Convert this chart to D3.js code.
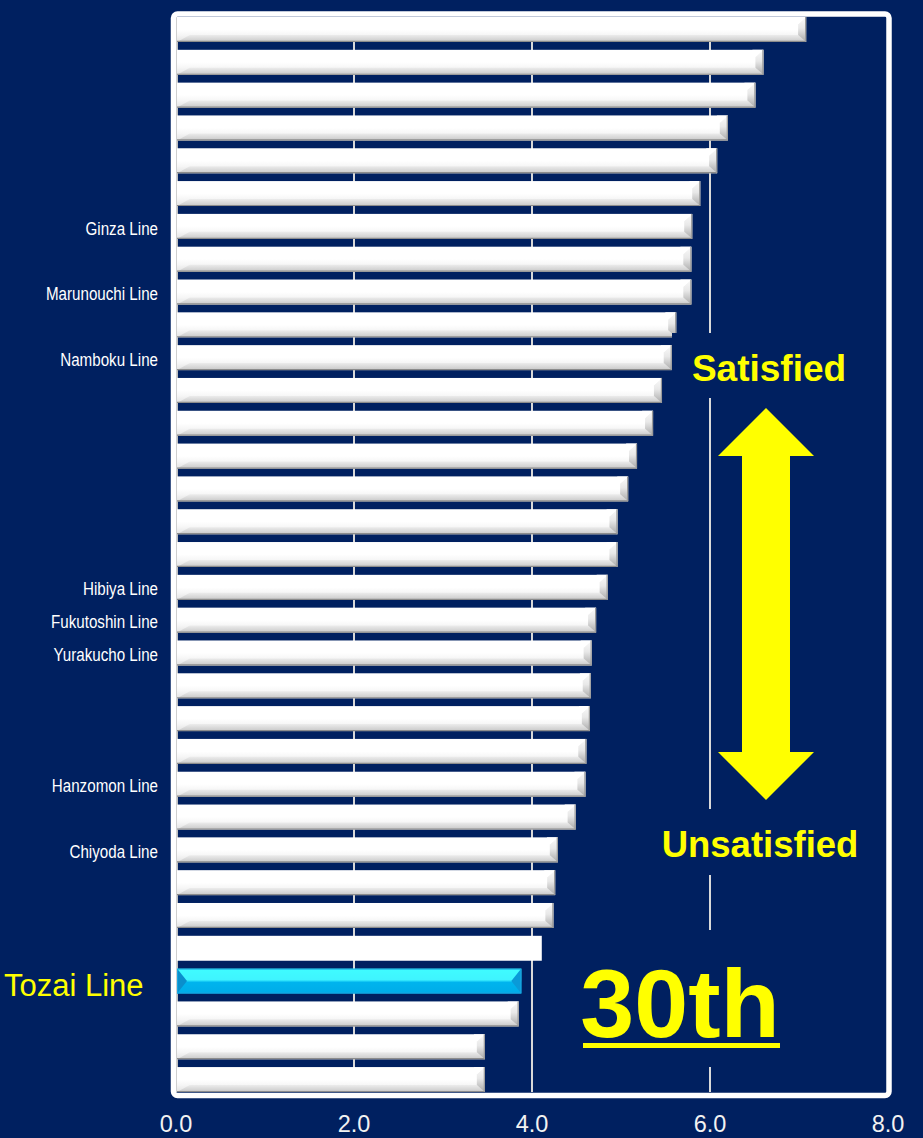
<!DOCTYPE html>
<html>
<head>
<meta charset="utf-8">
<script src="https://cdn.jsdelivr.net/npm/d3@7"></script>
<style>
html,body{margin:0;padding:0;background:#002060;}
svg{display:block;}
</style>
</head>
<body>
<svg id="chart" width="923" height="1138"></svg>
<script>
// ---- data ----
const categories = ["", "", "", "", "", "", "Ginza Line", "", "Marunouchi Line", "", "Namboku Line", "", "", "", "", "", "",
  "Hibiya Line", "Fukutoshin Line", "Yurakucho Line", "", "", "", "Hanzomon Line", "", "Chiyoda Line", "", "", "", "Tozai Line", "", "", ""];
const values = [7.08, 6.60, 6.51, 6.20, 6.08, 5.89, 5.80, 5.79, 5.79, 5.62, 5.57, 5.46, 5.36, 5.18, 5.08, 4.96, 4.96,
  4.85, 4.72, 4.67, 4.66, 4.65, 4.61, 4.60, 4.49, 4.29, 4.26, 4.24, 4.11, 3.88, 3.85, 3.47, 3.47];
const barTypes = values.map((v, i) => i === 29 ? "highlight" : (i === 28 ? "flat" : "bevel"));
const xTicks = [0, 2, 4, 6, 8];
const gridTicks = [2, 4, 6];
const annotations = { top: "Satisfied", bottom: "Unsatisfied", rank: "30th" };

// ---- layout ----
const svg = d3.select("#chart");
const plot = { left: 176, right: 888, top: 17, bottom: 1092 };
const x = d3.scaleLinear().domain([0, 8]).range([plot.left, plot.right]);
const y = d3.scaleBand().domain(d3.range(values.length)).range([plot.top, plot.bottom]).paddingInner(0.24).paddingOuter(0);
const bg = "#002060";

const defs = svg.append("defs");
function vgrad(id, stops) {
  const g = defs.append("linearGradient").attr("id", id).attr("x1", 0).attr("y1", 0).attr("x2", 0).attr("y2", 1);
  stops.forEach(s => g.append("stop").attr("offset", s[0]).attr("stop-color", s[1]));
}
vgrad("faceW", [[0, "#ffffff"], [0.5, "#ffffff"], [0.72, "#f6f6f6"], [1, "#e2e2e2"]]);
vgrad("rightW", [[0, "#fafafa"], [0.45, "#e8e8e8"], [1, "#a9a9a9"]]);
vgrad("bottomW", [[0, "#ececec"], [1, "#c8c8c8"]]);
vgrad("faceC", [[0, "#3ffcff"], [0.45, "#3ff4ff"], [0.55, "#00b4ee"], [1, "#00ace8"]]);

svg.append("rect").attr("width", 923).attr("height", 1138).attr("fill", bg);

// gridlines
svg.append("g").selectAll("line").data(gridTicks).join("line")
  .attr("x1", d => x(d)).attr("x2", d => x(d))
  .attr("y1", plot.top).attr("y2", plot.bottom)
  .attr("stroke", "#d9d9d9").attr("stroke-width", 2);

// y axis line
svg.append("line").attr("x1", x(0) + 1).attr("x2", x(0) + 1).attr("y1", plot.top).attr("y2", plot.bottom)
  .attr("stroke", "#bfbfbf").attr("stroke-width", 2);

// bars
const bars = svg.append("g").selectAll("g").data(values.map((v, i) => ({ v, i, type: barTypes[i] }))).join("g")
  .attr("transform", d => `translate(${x(0) + 1},${y(d.i)})`);
const h = y.bandwidth();
const b = 8;
bars.each(function (d) {
  const g = d3.select(this);
  const w = x(d.v) - x(0) - 1;
  if (d.type === "flat") {
    g.append("rect").attr("width", w).attr("height", h).attr("fill", "#ffffff");
  } else if (d.type === "bevel") {
    g.append("rect").attr("width", w).attr("height", h).attr("fill", "url(#faceW)");
    g.append("polygon").attr("points", [[0, h], [b * 1.6, h - 7], [w - b, h - 7], [w, h]].join(" ")).attr("fill", "url(#bottomW)");
    g.append("polygon").attr("points", [[w - b, b * 0.9], [w, 0], [w, h], [w - b, h - 7]].join(" ")).attr("fill", "url(#rightW)");
    g.append("polygon").attr("points", [[w - b, b * 0.9], [w - b - 3, 0], [w, 0]].join(" ")).attr("fill", "#ffffff");
    g.append("line").attr("x1", 0).attr("x2", w).attr("y1", h - 0.5).attr("y2", h - 0.5).attr("stroke", "#8c8c8c").attr("stroke-width", 1.2);
    g.append("line").attr("x1", w - 0.5).attr("x2", w - 0.5).attr("y1", 0).attr("y2", h).attr("stroke", "#9a9a9a").attr("stroke-width", 1.2);
  } else {
    g.append("rect").attr("width", w).attr("height", h).attr("fill", "url(#faceC)");
    g.append("polygon").attr("points", [[0, 0], [10, h / 2], [0, h]].join(" ")).attr("fill", "#0a8fcc");
    g.append("polygon").attr("points", [[w, 0], [w - 10, h / 2], [w, h]].join(" ")).attr("fill", "#0a9ad8");
    g.append("rect").attr("x", 0.5).attr("y", 0.5).attr("width", w - 1).attr("height", h - 1).attr("fill", "none").attr("stroke", "#1aa6e0").attr("stroke-width", 1);
  }
});

// annotation boxes (cover gridline)
svg.append("rect").attr("x", 672).attr("y", 333).attr("width", 205).attr("height", 65).attr("fill", bg);
svg.append("rect").attr("x", 650).attr("y", 809).attr("width", 230).attr("height", 66).attr("fill", bg);
svg.append("rect").attr("x", 575).attr("y", 930).attr("width", 215).attr("height", 137).attr("fill", bg);

svg.append("text").attr("x", 769).attr("y", 381).attr("text-anchor", "middle")
  .attr("font-family", "Liberation Sans, Arial, sans-serif").attr("font-weight", "bold").attr("font-size", 37)
  .attr("fill", "#ffff00").text(annotations.top);
svg.append("text").attr("x", 760).attr("y", 857).attr("text-anchor", "middle")
  .attr("font-family", "Liberation Sans, Arial, sans-serif").attr("font-weight", "bold").attr("font-size", 36.5)
  .attr("fill", "#ffff00").text(annotations.bottom);
svg.append("text").attr("x", 680).attr("y", 1037).attr("text-anchor", "middle")
  .attr("font-family", "Liberation Sans, Arial, sans-serif").attr("font-weight", "bold").attr("font-size", 97)
  .attr("fill", "#ffff00").text(annotations.rank);
svg.append("rect").attr("x", 583).attr("y", 1043).attr("width", 197).attr("height", 5).attr("fill", "#ffff00");

// double arrow
const arrow = [[766, 408], [814, 456], [790, 456], [790, 752], [814, 752], [766, 800], [718, 752], [742, 752], [742, 456], [718, 456]];
svg.append("polygon").attr("points", arrow.join(" ")).attr("fill", "#ffff00");

// frame
svg.append("rect").attr("x", 173.5).attr("y", 14).attr("width", 715.5).attr("height", 1081.5)
  .attr("rx", 4).attr("fill", "none").attr("stroke", "#ffffff").attr("stroke-width", 5.5);

// category labels (condensed like Arial Narrow)
svg.append("g").selectAll("text").data(categories.map((c, i) => ({ c, i })).filter(d => d.c && d.i !== 29)).join("text")
  .attr("transform", d => `translate(158,${y(d.i) + h / 2 + 1.5}) scale(0.82,1)`)
  .attr("dy", "0.36em").attr("text-anchor", "end")
  .attr("font-family", "Liberation Sans, Arial, sans-serif").attr("font-size", 18.5)
  .attr("fill", "#ffffff").text(d => d.c);
svg.append("text").attr("x", 4).attr("y", y(29) + h / 2 + 4).attr("dy", "0.36em")
  .attr("font-family", "Liberation Sans, Arial, sans-serif").attr("font-size", 31)
  .attr("fill", "#ffff00").text(categories[29]);

// x axis tick labels
svg.append("g").selectAll("text").data(xTicks).join("text")
  .attr("x", d => x(d)).attr("y", 1132).attr("text-anchor", "middle")
  .attr("font-family", "Liberation Sans, Arial, sans-serif").attr("font-size", 23.5)
  .attr("fill", "#f2f2f2").text(d => d3.format(".1f")(d));
</script>
</body>
</html>
